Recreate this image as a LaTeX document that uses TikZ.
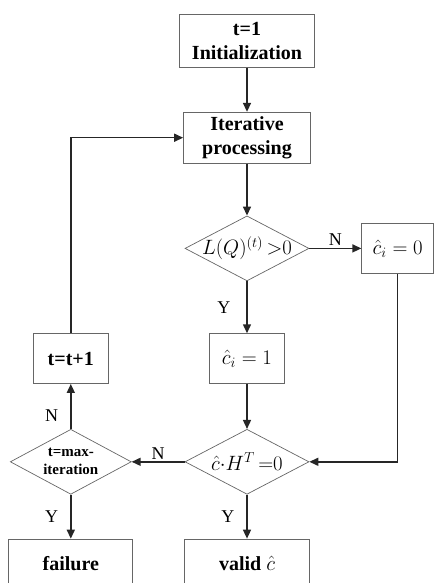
\documentclass[tikz,border=0pt]{standalone}
\usepackage{fontspec}
\setmainfont{Liberation Serif}
\usetikzlibrary{shapes,arrows.meta,positioning}
\tikzset{
	procbox/.style={rectangle, draw=black!60, line width=0.7pt, align=center,
		font=\fontsize{20}{24}\selectfont\bfseries, inner sep=2pt,
		minimum width=75pt, minimum height=50pt},
	decision/.style={diamond, draw=black!60, line width=0.7pt, align=center,
		font=\fontsize{20}{24}\selectfont, inner sep=-8pt, aspect=1.9,
		minimum width=124pt, minimum height=65pt},
	flowarr/.style={-{Triangle[length=9pt,width=8pt]}, line width=1.5pt, draw=black!85},
	lbl/.style={font=\fontsize{18}{20}\selectfont, inner sep=2pt}
}

\begin{document}
\begin{tikzpicture}[x=1pt, y=1pt]
			\useasboundingbox (0,0) rectangle (434,-583);
			\node[procbox, minimum width=135pt, minimum height=53pt] (init) at (247,-41) {t=1\\Initialization};
			\node[procbox, below=44pt of init, minimum width=127pt, minimum height=51pt] (iter) {Iterative\\processing};
			\node[decision, below=52pt of iter] (chk) {$L(Q)^{(t)}\,{>}0$};
			\node[procbox, right=52pt of chk, minimum width=72pt] (czero) {$\hat{c}_i=0$};
			\node[procbox, below=52pt of chk] (cone) {$\hat{c}_i=1$};
			\node[decision, below=45pt of cone] (syn) {$\hat{c}{\cdot}H^T\,{=}0$};
			\node[procbox, below=44pt of syn, minimum width=125pt, minimum height=49pt] (valid) {valid $\hat{c}$};
			\node[decision, left=53pt of syn, minimum width=121pt, inner sep=-4pt,
				font=\fontsize{15}{18}\selectfont\bfseries] (maxit) {t=max-\\iteration};
			\node[procbox, above=45pt of maxit] (incr) {t=t+1};
			\node[procbox, below=44pt of maxit, minimum width=124pt, minimum height=49pt] (fail) {failure};
			% connectors
			\draw[flowarr] (init) -- (iter);
			\draw[flowarr] (iter) -- (chk);
			\draw[flowarr] (chk) -- node[above, lbl] {N} (czero);
			\draw[flowarr] (chk) -- node[left=14pt, lbl] {Y} (cone);
			\draw[flowarr] (cone) -- (syn);
			\draw[flowarr] (czero.south) |- (syn.east);
			\draw[flowarr] (syn) -- node[above, lbl] {N} (maxit);
			\draw[flowarr] (maxit) -- node[left=10pt, lbl, pos=0.3] {N} (incr);
			\draw[flowarr] (incr.north) |- (iter.west);
			\draw[flowarr] (maxit) -- node[left=10pt, lbl] {Y} (fail);
			\draw[flowarr] (syn) -- node[left=10pt, lbl] {Y} (valid);
		\end{tikzpicture}
\end{document}
